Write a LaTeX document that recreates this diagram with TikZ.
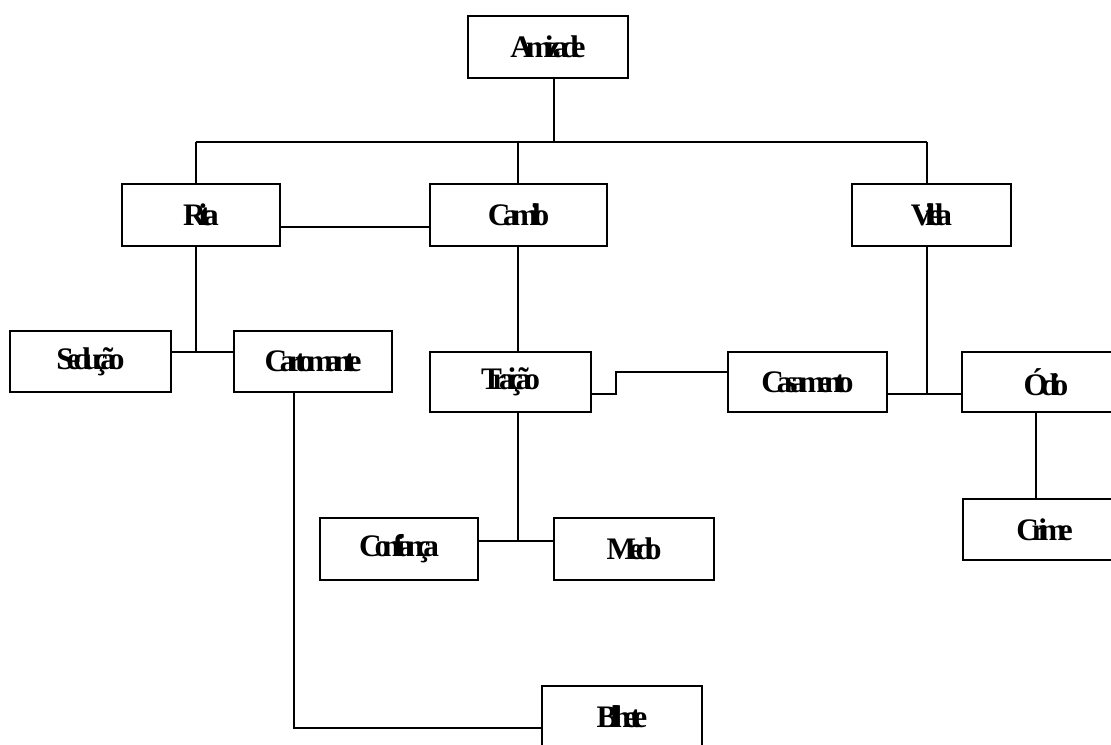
\documentclass[tikz,border=0pt]{standalone}
\usepackage{fontspec}
\newfontfamily\lblfont{Liberation Serif}[LetterSpace=-23]
\begin{document}
\begin{tikzpicture}[x=0.75pt,y=-0.75pt,
  box/.style={draw, line width=1.5pt, inner sep=0pt, outer sep=0pt,
    font=\lblfont\bfseries\fontsize{23.5}{25}\selectfont},
  link/.style={line width=1.5pt}]
\clip (0,0) rectangle (1111,744);
\fill[white] (0,0) rectangle (1111,744);

% boxes
\node[box, minimum width=120pt,    minimum height=46.5pt]  (amizade)   at (548,47)      {Amizade};
\node[box, minimum width=118.5pt,  minimum height=46.5pt]  (rita)      at (201,215)     {Rita};
\node[box, minimum width=132.75pt, minimum height=46.5pt]  (camilo)    at (518.5,215)   {Camilo};
\node[box, minimum width=119.25pt, minimum height=46.5pt]  (vilela)    at (931.5,215)   {Vilela};
\node[box, minimum width=120.75pt, minimum height=45.75pt] (seducao)   at (90.5,361.5)  {Sedução};
\node[box, minimum width=118.5pt,  minimum height=45.75pt] (cartomante) at (313,361.5)  {Cartomante};
\node[box, minimum width=120.75pt, minimum height=45pt]    (traicao)   at (510.5,382)   {Traição};
\node[box, minimum width=119.25pt, minimum height=45pt]    (casamento) at (807.5,382)   {Casamento};
\node[box, minimum width=126pt,    minimum height=45pt]    (odio)      at (1046,382)    {Ódio};
\node[box, minimum width=118.5pt,  minimum height=46.5pt]  (confianca) at (399,549)     {Confiança};
\node[box, minimum width=120pt,    minimum height=46.5pt]  (medo)      at (634,549)     {Medo};
\node[box, minimum width=122.25pt, minimum height=45.75pt] (crime)     at (1044.5,529.5) {Crime};
\node[box, minimum width=120pt,    minimum height=46.5pt]  (bilhete)   at (622,717)     {Bilhete};

% junction points
\coordinate (top)   at (554,142);
\coordinate (busL)  at (196,142);
\coordinate (busM)  at (518,142);
\coordinate (busR)  at (927,142);
\coordinate (ritaJ) at (196,352);
\coordinate (rcY)   at (0,227);
\coordinate (trJ)   at (518,541);
\coordinate (stepA) at (616,394);
\coordinate (stepB) at (616,372);
\coordinate (viJ)   at (927,394);
\coordinate (crX)   at (1036,0);
\coordinate (ctX)   at (294,0);
\coordinate (biJ)   at (294,728);

% connectors
\draw[link] (amizade.south -| top) -- (top);
\draw[link] (busL) -- (busR);
\draw[link] (busL) -- (busL |- rita.north);
\draw[link] (busM) -- (busM |- camilo.north);
\draw[link] (busR) -- (busR |- vilela.north);
\draw[link] (rita.east |- rcY) -- (camilo.west |- rcY);
\draw[link] (busL |- rita.south) -- (ritaJ);
\draw[link] (seducao.east |- ritaJ) -- (cartomante.west |- ritaJ);
\draw[link] (busM |- camilo.south) -- (busM |- traicao.north);
\draw[link] (busM |- traicao.south) -- (trJ);
\draw[link] (confianca.east |- trJ) -- (medo.west |- trJ);
\draw[link] (traicao.east |- stepA) -- (stepA) -- (stepB) -- (casamento.west |- stepB);
\draw[link] (busR |- vilela.south) -- (viJ);
\draw[link] (casamento.east |- viJ) -- (odio.west |- viJ);
\draw[link] (crX |- odio.south) -- (crX |- crime.north);
\draw[link] (ctX |- cartomante.south) -- (biJ) -- (bilhete.west |- biJ);
\end{tikzpicture}
\end{document}
